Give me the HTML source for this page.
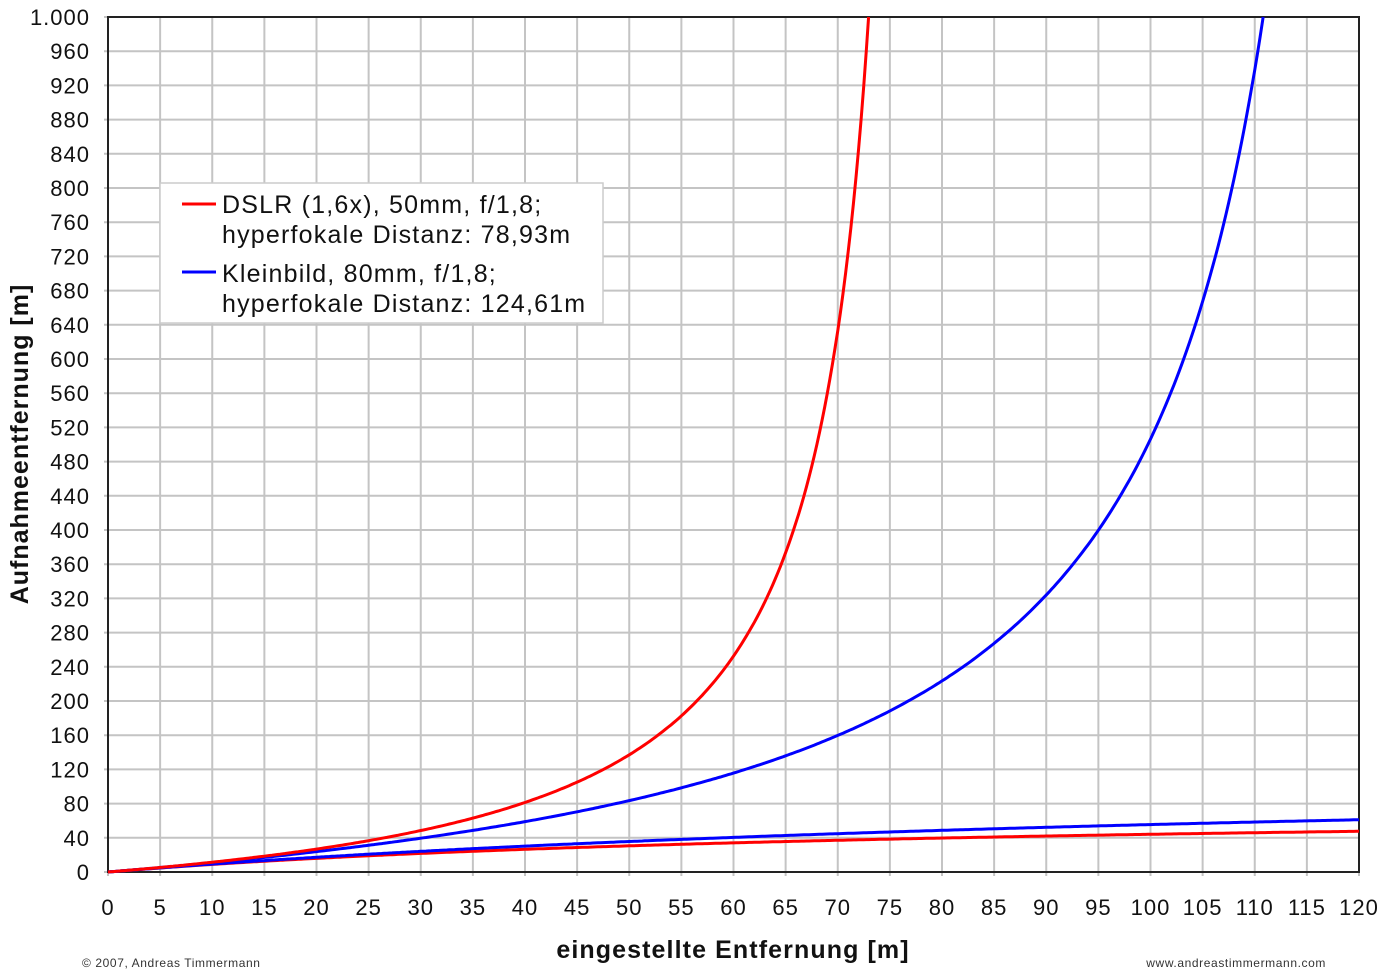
<!DOCTYPE html>
<html><head><meta charset="utf-8"><style>body{margin:0;background:#fff}svg{display:block}text{font-family:"Liberation Sans",sans-serif}</style></head>
<body>
<svg id="s" width="1400" height="975" xmlns="http://www.w3.org/2000/svg"></svg>
<script>
const s=document.getElementById('s');
const X0=108,X1=1359,Y0=872,Y1=17;
const fx=v=>X0+(X1-X0)*v/120, fy=v=>Y0-(Y0-Y1)*v/1000;
let h='';
for(let i=0;i<=24;i++){const x=fx(i*5);h+=`<line x1="${x}" y1="${Y1}" x2="${x}" y2="${Y0+4}" stroke="#c4c4c4" stroke-width="2"/>`;
h+=`<text x="${x}" y="915" font-size="22" letter-spacing="1" text-anchor="middle" fill="#111">${i*5}</text>`;}
for(let j=0;j<=25;j++){const y=fy(j*40);h+=`<line x1="${X0-4}" y1="${y}" x2="${X1}" y2="${y}" stroke="#c4c4c4" stroke-width="2"/>`;
let l=j==25?'1.000':String(j*40);h+=`<text x="90" y="${y+8}" font-size="22" letter-spacing="1" text-anchor="end" fill="#111">${l}</text>`;}
h+=`<rect x="${X0}" y="${Y1}" width="${X1-X0}" height="${Y0-Y1}" fill="none" stroke="#222" stroke-width="2"/>`;
function curve(H,far,col){let p=[];for(let v=0;v<=120;v+=0.25){let d=far?H*v/(H-v):H*v/(H+v);if(far&&(v>=H||d>1000)){let v2=1000*H/(1000+H);p.push(fx(v2)+','+fy(1000));break;}p.push(fx(v).toFixed(1)+','+fy(d).toFixed(1));}
return `<polyline points="${p.join(' ')}" fill="none" stroke="${col}" stroke-width="3"/>`;}
h+=curve(78.93,0,'#f00')+curve(124.61,0,'#00f')+curve(124.61,1,'#00f')+curve(78.7,1,'#f00');
h+=`<rect x="160" y="183" width="443" height="140" fill="#fff" stroke="#ccc" stroke-width="1.5"/>
<line x1="182" y1="204" x2="216" y2="204" stroke="#f00" stroke-width="3"/>
<line x1="182" y1="272" x2="216" y2="272" stroke="#00f" stroke-width="3"/>
<g font-size="25" fill="#111" letter-spacing="1.2"><text x="222" y="213">DSLR (1,6x), 50mm, f/1,8;</text><text x="222" y="243">hyperfokale Distanz: 78,93m</text>
<text x="222" y="282">Kleinbild, 80mm, f/1,8;</text><text x="222" y="312">hyperfokale Distanz: 124,61m</text></g>
<text x="733" y="958" font-size="25" font-weight="bold" letter-spacing="1.1" text-anchor="middle" fill="#111">eingestellte Entfernung [m]</text>
<text transform="translate(28,444) rotate(-90)" font-size="25" font-weight="bold" letter-spacing="1" text-anchor="middle" fill="#111">Aufnahmeentfernung [m]</text>
<text x="82" y="967" font-size="12" letter-spacing="0.6" fill="#333">© 2007, Andreas Timmermann</text>
<text x="1326" y="967" font-size="12" letter-spacing="0.6" text-anchor="end" fill="#333">www.andreastimmermann.com</text>`;
s.innerHTML=h;
</script>
</body></html>
